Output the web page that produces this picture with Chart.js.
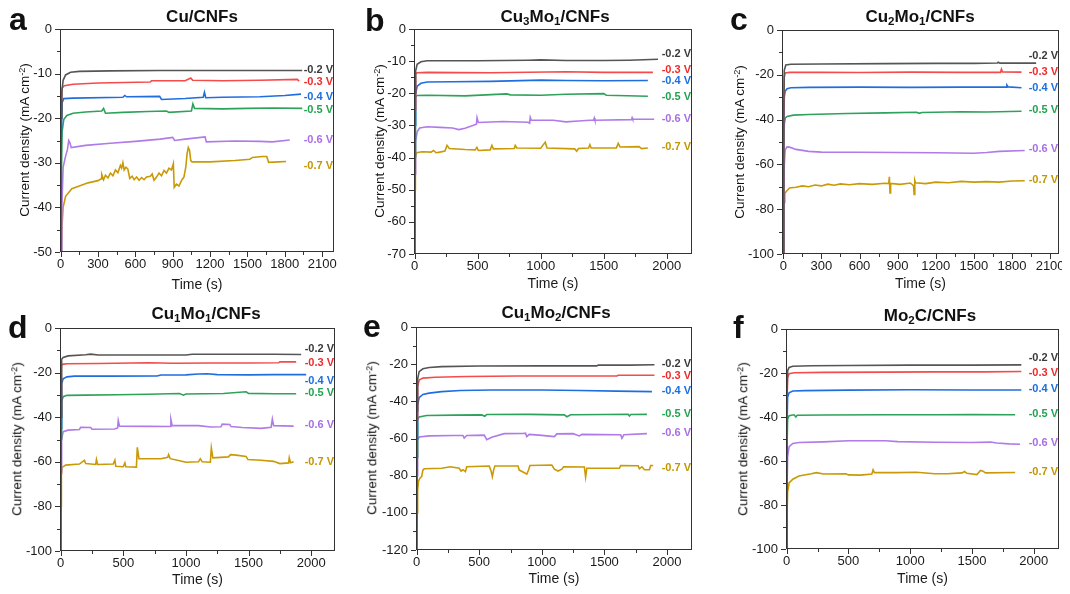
<!DOCTYPE html>
<html>
<head>
<meta charset="utf-8">
<script src="https://cdn.jsdelivr.net/npm/chart.js@4.4.0/dist/chart.umd.min.js"></script>
<style>
  body { margin: 0; background: #fff; }
  #pagina { position: relative; width: 1070px; height: 594px; overflow: hidden; font-family: "Liberation Sans", Arial, sans-serif; color: #111; }
  #pagina canvas { position: absolute; }
  .letra { position: absolute; font-size: 32px; font-weight: bold; line-height: 0; }
  .titulo { position: absolute; font-size: 17px; font-weight: bold; line-height: 0; white-space: nowrap; transform: translateX(-50%); }
  .titulo sub { font-size: 0.68em; vertical-align: -0.3em; line-height: 0; }
  .ytit { position: absolute; font-size: 13.5px; line-height: 1; white-space: nowrap; transform: translate(-50%, -50%) rotate(-90deg); }
  .ytit sup { font-size: 0.68em; vertical-align: 0.45em; line-height: 0; }
</style>
</head>
<body>
<div id="pagina">
  <div class="letra" style="left:9px; top:19px;">a</div>
  <div class="letra" style="left:365px; top:20px;">b</div>
  <div class="letra" style="left:730px; top:19px;">c</div>
  <div class="letra" style="left:8px; top:327px;">d</div>
  <div class="letra" style="left:363px; top:326px;">e</div>
  <div class="letra" style="left:733px; top:327px;">f</div>

  <div class="titulo" style="left:202px; top:17px;">Cu/CNFs</div>
  <div class="titulo" style="left:555px; top:17px;">Cu<sub>3</sub>Mo<sub>1</sub>/CNFs</div>
  <div class="titulo" style="left:920px; top:17px;">Cu<sub>2</sub>Mo<sub>1</sub>/CNFs</div>
  <div class="titulo" style="left:206px; top:314px;">Cu<sub>1</sub>Mo<sub>1</sub>/CNFs</div>
  <div class="titulo" style="left:556px; top:313px;">Cu<sub>1</sub>Mo<sub>2</sub>/CNFs</div>
  <div class="titulo" style="left:930px; top:316px;">Mo<sub>2</sub>C/CNFs</div>

  <div class="ytit" style="left:25px; top:140px;">Current density (mA cm<sup>-2</sup>)</div>
  <div class="ytit" style="left:380px; top:141px;">Current density (mA cm<sup>-2</sup>)</div>
  <div class="ytit" style="left:740px; top:142px;">Current density (mA cm<sup>-2</sup>)</div>
  <div class="ytit" style="left:17px; top:439px;">Current density (mA cm<sup>-2</sup>)</div>
  <div class="ytit" style="left:372px; top:438px;">Current density (mA cm<sup>-2</sup>)</div>
  <div class="ytit" style="left:743px; top:439px;">Current density (mA cm<sup>-2</sup>)</div>
</div>

<script>
const voltajes = ['-0.2 V', '-0.3 V', '-0.4 V', '-0.5 V', '-0.6 V', '-0.7 V'];
const colores_linea = ['#555555', '#f44b4b', '#1f6ee0', '#2ea25a', '#b07be8', '#c99a06'];
const colores_texto = ['#3a3a3a', '#f02a2a', '#1a6fe0', '#21a350', '#a86ee6', '#c39600'];

// [tiempo (s), densidad de corriente (mA cm-2)]
// a) Cu/CNFs
const cu_02 = [[0,-60],[5,-20],[10,-14],[20,-11.5],[40,-10.3],[80,-9.7],[150,-9.5],[400,-9.4],[800,-9.3],[1200,-9.3],[1600,-9.3],[1940,-9.3]];
const cu_03 = [[0,-60],[5,-17],[12,-13.2],[30,-12.7],[100,-12.4],[300,-12.1],[720,-11.9],[730,-11.6],[1000,-11.6],[1045,-11.0],[1060,-11.5],[1300,-11.6],[1600,-11.5],[1900,-11.3],[1915,-11.7]];
const cu_04 = [[0,-60],[5,-25],[12,-16.5],[25,-15.6],[100,-15.5],[500,-15.3],[515,-14.9],[530,-15.2],[795,-15.1],[810,-15.8],[1000,-15.6],[1145,-15.3],[1155,-14.2],[1165,-15.4],[1300,-15.3],[1600,-15.2],[1800,-14.9],[1930,-14.6]];
const cu_05 = [[0,-60],[5,-35],[12,-23],[25,-20.3],[50,-19.4],[100,-18.9],[200,-18.6],[330,-18.4],[345,-17.8],[360,-18.9],[500,-18.7],[700,-18.5],[850,-18.4],[870,-18.7],[1050,-18.4],[1062,-16.8],[1075,-17.8],[1300,-17.9],[1500,-17.8],[1700,-17.7],[1940,-17.8]];
const cu_06 = [[5,-60],[10,-40],[20,-31],[40,-28.5],[55,-27],[65,-25],[75,-25.5],[85,-26.6],[200,-26.1],[400,-25.6],[600,-25.2],[800,-24.7],[900,-24.3],[915,-25.0],[1000,-24.7],[1160,-24.2],[1170,-25.3],[1400,-25.1],[1600,-25.2],[1700,-25.3],[1840,-24.9]];
const cu_07 = [[3,-60],[10,-45],[20,-40],[40,-37.5],[90,-35.8],[150,-35.2],[220,-34.5],[300,-34],[325,-33.6],[330,-32.6],[345,-33.8],[360,-32.8],[380,-33.4],[400,-32.3],[420,-32.9],[440,-31.6],[460,-32.2],[480,-30.6],[490,-31.2],[500,-30.0],[510,-31.6],[525,-31.0],[540,-31.4],[555,-33.5],[575,-33.0],[590,-33.8],[610,-33.2],[630,-33.9],[650,-33.3],[670,-33.8],[690,-33.2],[720,-33.0],[735,-32.5],[750,-33.9],[770,-33.2],[790,-32.3],[810,-32.9],[830,-31.7],[850,-32.3],[870,-31.2],[890,-31.6],[905,-30.2],[912,-35.5],[930,-34.8],[950,-35.2],[970,-34.0],[990,-33.2],[1005,-31],[1015,-28],[1025,-26.6],[1035,-27.2],[1045,-29.5],[1055,-29.8],[1200,-29.8],[1400,-29.5],[1520,-29.2],[1540,-28.8],[1620,-28.6],[1655,-28.6],[1670,-29.9],[1750,-29.8],[1810,-29.7]];

// b) Cu3Mo1/CNFs
const cu3mo1_02 = [[0,-70],[3,-20],[8,-13],[20,-11],[50,-10.2],[100,-9.9],[500,-9.9],[900,-9.7],[1000,-9.6],[1200,-9.8],[1500,-9.8],[1700,-9.7],[1930,-9.4]];
const cu3mo1_03 = [[0,-70],[3,-25],[8,-14],[20,-13.6],[100,-13.5],[600,-13.6],[1200,-13.3],[1500,-13.5],[1890,-13.5]];
const cu3mo1_04 = [[0,-70],[3,-30],[8,-20],[20,-17.8],[50,-16.9],[100,-16.5],[300,-16.4],[600,-16.3],[1000,-15.9],[1200,-16.0],[1500,-16.1],[1850,-16.0]];
const cu3mo1_05 = [[0,-70],[3,-40],[7,-21.5],[15,-20.7],[100,-20.6],[400,-20.8],[730,-20.2],[760,-20.5],[1000,-20.6],[1200,-20.3],[1500,-20.1],[1520,-20.6],[1850,-20.9]];
const cu3mo1_06 = [[0,-70],[3,-45],[8,-35],[20,-32],[40,-30.8],[100,-30.4],[200,-30.6],[300,-30.8],[350,-31.3],[400,-30.9],[450,-30.2],[490,-29.6],[495,-27.6],[505,-29.1],[700,-28.8],[900,-29.0],[912,-29.3],[917,-27.5],[925,-28.4],[1100,-28.4],[1200,-28.9],[1300,-28.6],[1420,-28.3],[1425,-27.7],[1430,-28.4],[1720,-28.2],[1725,-27.6],[1730,-28.1],[1900,-28.1]];
const cu3mo1_07 = [[0,-70],[3,-50],[6,-40],[15,-38.5],[60,-38.2],[130,-38.3],[150,-37.8],[170,-38.5],[200,-38.3],[240,-38.0],[257,-36.2],[275,-37.2],[400,-37.5],[480,-37.6],[494,-36.8],[505,-37.8],[600,-37.6],[613,-36.2],[625,-37.3],[790,-37.2],[798,-36.2],[810,-37.0],[1000,-37.1],[1036,-35.2],[1050,-37.0],[1270,-37.3],[1285,-38.0],[1300,-37.2],[1380,-37.0],[1390,-36.0],[1400,-37.0],[1600,-37.0],[1615,-35.6],[1630,-36.7],[1780,-36.6],[1800,-37.2],[1850,-37.0]];

// c) Cu2Mo1/CNFs
const cu2mo1_02 = [[0,-100],[3,-40],[8,-18],[20,-15.6],[60,-15.3],[300,-15.2],[800,-15.0],[1200,-14.9],[1500,-14.9],[1685,-14.7],[1692,-14.4],[1705,-14.8],[1990,-14.8]];
const cu2mo1_03 = [[0,-100],[3,-40],[8,-21],[15,-19.2],[50,-18.9],[300,-18.9],[600,-19.0],[1000,-18.8],[1400,-18.9],[1710,-18.9],[1717,-17.5],[1725,-18.7],[1875,-18.8]];
const cu2mo1_04 = [[0,-100],[3,-50],[8,-30],[15,-27.3],[30,-26.2],[60,-25.8],[200,-25.6],[600,-25.5],[1000,-25.6],[1400,-25.5],[1755,-25.5],[1760,-24.6],[1770,-25.4],[1875,-25.8]];
const cu2mo1_05 = [[0,-100],[3,-60],[8,-42],[15,-39.4],[30,-38.6],[80,-38.0],[200,-37.7],[500,-37.3],[800,-37.0],[1050,-36.7],[1070,-37.2],[1090,-36.8],[1400,-36.5],[1600,-36.6],[1875,-36.3]];
const cu2mo1_06 = [[0,-100],[4,-75],[8,-60],[15,-53.5],[30,-52.2],[50,-52.3],[100,-53.3],[200,-54.2],[300,-54.5],[600,-54.6],[900,-54.7],[1200,-54.8],[1500,-55.0],[1600,-54.7],[1700,-54.2],[1900,-53.8]];
const cu2mo1_07 = [[0,-100],[3,-85],[6,-77],[12,-73],[25,-72],[50,-70.5],[100,-70.2],[150,-69.6],[200,-70.0],[250,-69.2],[300,-69.6],[350,-68.8],[400,-69.3],[450,-68.7],[520,-69.1],[600,-68.6],[700,-68.9],[800,-68.4],[830,-68.6],[835,-65.5],[840,-72.8],[845,-68.5],[920,-68.9],[1000,-68.3],[1025,-69.5],[1030,-73.4],[1035,-67.2],[1040,-68.2],[1120,-68.6],[1200,-67.9],[1300,-68.2],[1400,-67.6],[1500,-67.9],[1600,-67.7],[1700,-67.9],[1800,-67.4],[1900,-67.3]];

// d) Cu1Mo1/CNFs
const cu1mo1_02 = [[0,-100],[3,-40],[8,-14],[20,-13.2],[60,-12.5],[200,-12.0],[240,-11.7],[300,-12.1],[700,-12.1],[1000,-12.1],[1050,-11.8],[1400,-11.8],[1700,-11.8],[1920,-11.9]];
const cu1mo1_03 = [[0,-100],[3,-40],[6,-17],[15,-16.3],[50,-16.0],[300,-15.9],[700,-15.6],[900,-15.8],[1200,-15.7],[1500,-15.7],[1740,-15.6],[1750,-15.2],[1880,-15.2]];
const cu1mo1_04 = [[0,-100],[3,-45],[8,-25],[20,-22.8],[50,-21.9],[110,-21.6],[400,-21.6],[770,-21.5],[800,-21.1],[1000,-21.0],[1100,-20.6],[1170,-20.5],[1250,-20.9],[1500,-21.0],[1700,-20.9],[1960,-20.9]];
const cu1mo1_05 = [[0,-100],[3,-50],[8,-33],[20,-30.8],[50,-30.2],[200,-30.1],[450,-29.9],[700,-29.7],[950,-29.4],[980,-30.1],[1000,-29.6],[1300,-29.4],[1480,-28.6],[1500,-29.3],[1700,-29.5],[1880,-29.5]];
const cu1mo1_06 = [[0,-100],[3,-65],[8,-50],[20,-46.5],[60,-45.8],[150,-45.5],[160,-44.5],[240,-44.6],[250,-45.4],[430,-45.3],[455,-44.8],[460,-41.5],[470,-44.0],[700,-44.1],[875,-44.2],[880,-41.0],[890,-43.7],[1100,-43.8],[1200,-44.4],[1280,-44.3],[1290,-43.1],[1350,-43.3],[1360,-44.2],[1450,-44.6],[1600,-45.0],[1680,-44.5],[1690,-40.8],[1700,-43.8],[1860,-44.0]];
const cu1mo1_07 = [[0,-100],[3,-80],[6,-66],[12,-62.5],[40,-61.5],[150,-61.0],[190,-59.3],[200,-60.8],[280,-61.2],[286,-59.0],[295,-61.2],[420,-61.0],[433,-59.3],[440,-62.0],[500,-62.2],[513,-60.5],[520,-62.2],[605,-62.4],[612,-53.5],[625,-58.6],[800,-58.6],[855,-58.0],[862,-56.8],[875,-58.6],[950,-59.5],[1000,-60.2],[1100,-60.0],[1115,-58.6],[1130,-60.0],[1195,-60.2],[1203,-53.8],[1215,-58.2],[1340,-57.8],[1356,-56.8],[1400,-57.0],[1480,-57.6],[1495,-59.0],[1600,-59.3],[1700,-59.8],[1750,-60.8],[1820,-60.5],[1825,-58.2],[1835,-60.4],[1860,-60.0]];

// e) Cu1Mo2/CNFs
const cu1mo2_02 = [[0,-120],[3,-45],[8,-28],[20,-24],[50,-22.5],[100,-21.8],[200,-21.3],[500,-21.0],[1000,-20.9],[1440,-20.9],[1450,-20.5],[1700,-20.5],[1900,-20.3]];
const cu1mo2_03 = [[0,-120],[3,-50],[8,-32],[20,-28.5],[50,-27.5],[150,-27.0],[400,-26.6],[800,-26.4],[1200,-26.4],[1600,-26.4],[1610,-26.0],[1900,-26.0]];
const cu1mo2_04 = [[0,-120],[3,-60],[8,-42],[20,-38],[50,-36.3],[100,-35.6],[200,-34.8],[350,-34.2],[600,-33.9],[1000,-33.9],[1300,-34.2],[1600,-34.5],[1880,-34.8]];
const cu1mo2_05 = [[0,-120],[3,-70],[8,-50],[20,-48.4],[80,-47.6],[300,-47.4],[520,-47.3],[545,-48.0],[560,-47.1],[900,-47.0],[1180,-47.3],[1200,-48.3],[1230,-47.2],[1500,-47.1],[1690,-47.0],[1700,-47.9],[1710,-47.1],[1840,-47.0]];
const cu1mo2_06 = [[0,-120],[3,-80],[8,-61],[20,-59.2],[100,-58.6],[300,-58.4],[370,-58.4],[380,-59.8],[400,-58.4],[540,-58.2],[560,-60.6],[600,-59.3],[700,-57.4],[850,-57.3],[870,-57.1],[880,-59.0],[900,-57.8],[1000,-58.3],[1100,-59.0],[1120,-57.5],[1250,-57.4],[1300,-58.6],[1320,-57.8],[1630,-58.0],[1640,-59.9],[1655,-58.0],[1840,-57.4]];
const cu1mo2_07 = [[0,-120],[3,-100],[8,-88],[15,-83],[25,-81.5],[40,-80.5],[50,-77],[60,-76.3],[200,-76.0],[270,-75.2],[340,-76.0],[355,-77.5],[370,-76.8],[390,-77.8],[400,-75.2],[580,-74.8],[595,-77.5],[605,-80.5],[615,-77.0],[625,-74.8],[810,-74.8],[820,-77.0],[850,-78.0],[880,-79.2],[895,-76.8],[905,-74.5],[1080,-74.3],[1100,-76.5],[1130,-77.5],[1160,-76.5],[1175,-75.2],[1340,-75.3],[1350,-80.8],[1360,-76.0],[1620,-76.0],[1630,-74.6],[1770,-74.7],[1780,-76.3],[1800,-75.2],[1820,-76.8],[1860,-76.8],[1870,-74.5],[1890,-74.5]];

// f) Mo2C/CNFs
const mo2c_02 = [[0,-100],[3,-30],[8,-19],[20,-17.5],[50,-16.9],[200,-16.7],[500,-16.6],[1000,-16.4],[1500,-16.4],[1900,-16.3]];
const mo2c_03 = [[0,-100],[3,-35],[8,-22],[20,-20.3],[60,-19.9],[300,-19.7],[800,-19.6],[1200,-19.5],[1600,-19.5],[1900,-19.3]];
const mo2c_04 = [[0,-100],[3,-45],[8,-31],[20,-29],[50,-28.2],[150,-28.0],[500,-27.8],[1000,-27.6],[1500,-27.7],[1900,-27.7]];
const mo2c_05 = [[0,-100],[3,-55],[8,-41],[20,-39.4],[60,-39.0],[75,-40.0],[85,-39.2],[300,-39.1],[800,-39.0],[1200,-39.0],[1500,-38.9],[1850,-39.0]];
const mo2c_06 = [[0,-100],[3,-75],[8,-58],[20,-53.5],[50,-52.0],[100,-51.6],[300,-51.3],[500,-50.8],[800,-50.8],[900,-51.2],[1200,-51.5],[1500,-51.6],[1650,-51.4],[1700,-51.8],[1800,-52.2],[1890,-52.4]];
const mo2c_07 = [[0,-100],[3,-85],[8,-74],[20,-70],[50,-68.3],[100,-66.8],[200,-65.8],[240,-65.3],[300,-65.9],[480,-65.8],[500,-66.3],[600,-66.4],[690,-65.9],[700,-64.0],[710,-65.3],[900,-65.3],[1050,-65.1],[1200,-65.8],[1300,-65.8],[1420,-65.4],[1440,-64.8],[1460,-65.6],[1540,-66.2],[1570,-64.3],[1590,-64.6],[1610,-65.4],[1850,-65.2]];

// caja = area del grafico en la pagina [izq, arriba, der, abajo]
// x / y = [min, max, paso menor, paso mayor]
const paneles = [
  { series: [cu_02, cu_03, cu_04, cu_05, cu_06, cu_07], caja: [59.5, 29, 334, 251.5], x: [-5, 2195, 150, 300], y: [-50, 0, 5, 10],
    etiquetas_y: [-9.2, -11.9, -15.2, -18.2, -24.8, -30.6], tit_x: 34, der: 14 },
  { series: [cu3mo1_02, cu3mo1_03, cu3mo1_04, cu3mo1_05, cu3mo1_06, cu3mo1_07], caja: [413.7, 29, 692, 254], x: [-5, 2200, 250, 500], y: [-70, 0, 5, 10],
    etiquetas_y: [-7.9, -12.8, -16.2, -21.1, -28.0, -36.6], tit_x: 31, der: 14 },
  { series: [cu2mo1_02, cu2mo1_03, cu2mo1_04, cu2mo1_05, cu2mo1_06, cu2mo1_07], caja: [782, 29.7, 1059, 254], x: [-10, 2170, 150, 300], y: [-100, 0, 10, 20],
    etiquetas_y: [-11.7, -18.7, -25.7, -35.8, -53.2, -67.0], tit_x: 31, der: 3 },
  { series: [cu1mo1_02, cu1mo1_03, cu1mo1_04, cu1mo1_05, cu1mo1_06, cu1mo1_07], caja: [60.3, 328, 335, 550.7], x: [-5, 2190, 250, 500], y: [-100, 0, 10, 20],
    etiquetas_y: [-9.6, -15.6, -23.8, -29.3, -43.6, -60.0], tit_x: 30, der: 14 },
  { series: [cu1mo2_02, cu1mo2_03, cu1mo2_04, cu1mo2_05, cu1mo2_06, cu1mo2_07], caja: [415.7, 327, 692.3, 550], x: [-5, 2200, 250, 500], y: [-120, 0, 10, 20],
    etiquetas_y: [-20.1, -26.4, -34.4, -46.8, -57.2, -76.0], tit_x: 30, der: 14 },
  { series: [mo2c_02, mo2c_03, mo2c_04, mo2c_05, mo2c_06, mo2c_07], caja: [785.7, 329.3, 1059, 549], x: [-5, 2205, 250, 500], y: [-100, 0, 10, 20],
    etiquetas_y: [-13.2, -20.0, -27.3, -38.6, -51.6, -64.8], tit_x: 31, der: 14 }
];

const fuente = '"Liberation Sans", Arial, sans-serif';
Chart.defaults.font.family = fuente;
Chart.defaults.color = '#1a1a1a';

const ancho_y = 45;   // ancho del eje y
const margen_sup = 14;

// marcas cada "paso" dentro de [min, max]
function marcas(rango) {
  const [min, max, paso] = rango;
  const lista = [];
  for (let v = Math.ceil(min / paso) * paso; v <= max; v += paso) lista.push({ value: v });
  return lista;
}

// marco, marcas de los ejes y etiquetas de voltaje
function plugin_panel(panel) {
  return {
    id: 'panel_extra',
    afterDatasetsDraw(chart) {
      const ctx = chart.ctx;
      const area = chart.chartArea;
      const xs = chart.scales.x;
      const ys = chart.scales.y;
      ctx.save();
      ctx.strokeStyle = '#333';
      ctx.lineWidth = 1;
      ctx.strokeRect(Math.round(area.left) + 0.5, Math.round(area.top) + 0.5,
        Math.round(area.right - area.left) - 1, Math.round(area.bottom - area.top) - 1);

      ctx.beginPath();
      xs.ticks.forEach(t => {
        const px = Math.round(xs.getPixelForValue(t.value)) + 0.5;
        const largo = (t.value % panel.x[3] === 0) ? 5 : 3;
        ctx.moveTo(px, area.bottom);
        ctx.lineTo(px, area.bottom + largo);
      });
      ys.ticks.forEach(t => {
        const py = Math.round(ys.getPixelForValue(t.value)) + 0.5;
        const largo = (t.value % panel.y[3] === 0) ? 5 : 3;
        ctx.moveTo(area.left, py);
        ctx.lineTo(area.left - largo, py);
      });
      ctx.stroke();

      ctx.font = 'bold 11px ' + fuente;
      ctx.textAlign = 'right';
      ctx.textBaseline = 'middle';
      voltajes.forEach((v, i) => {
        ctx.fillStyle = colores_texto[i];
        ctx.fillText(v, area.right - 1, ys.getPixelForValue(panel.etiquetas_y[i]));
      });
      ctx.restore();
    }
  };
}

function crearPanel(panel) {
  const [izq, arriba, der, abajo] = panel.caja;
  const alto_x = panel.tit_x + 12.4;
  const canvas = document.createElement('canvas');
  const left = Math.round(izq - ancho_y);
  const top = Math.round(arriba - margen_sup);
  canvas.width = Math.round(der + panel.der) - left;
  canvas.height = Math.round(abajo + alto_x) - top;
  canvas.style.left = left + 'px';
  canvas.style.top = top + 'px';
  const pagina = document.getElementById('pagina');
  pagina.insertBefore(canvas, pagina.firstChild);

  const ajuste_x = Math.round(abajo + alto_x) - Math.round(abajo);
  const ajuste_y = Math.round(izq) - left;

  new Chart(canvas.getContext('2d'), {
    type: 'line',
    data: {
      datasets: panel.series.map((s, i) => ({
        label: voltajes[i],
        data: s.map(p => ({ x: p[0], y: p[1] })),
        borderColor: colores_linea[i],
        borderWidth: 1.6,
        pointRadius: 0,
        tension: 0,
        fill: false
      }))
    },
    options: {
      responsive: false,
      animation: false,
      events: [],
      layout: { padding: { left: 0, top: Math.round(arriba) - top, right: canvas.width - (Math.round(der) - left), bottom: 0 } },
      plugins: { legend: { display: false }, tooltip: { enabled: false } },
      scales: {
        x: {
          type: 'linear',
          min: panel.x[0], max: panel.x[1],
          grid: { display: false, drawTicks: false },
          border: { display: false },
          ticks: {
            autoSkip: false, maxRotation: 0, minRotation: 0,
            padding: 5, font: { size: 13 }, color: '#1a1a1a',
            callback: v => (v % panel.x[3] === 0 ? String(v) : '')
          },
          afterBuildTicks: s => { s.ticks = marcas(panel.x); },
          title: { display: true, text: 'Time (s)', font: { size: 14 }, color: '#1a1a1a', padding: { top: 0, bottom: 4 } },
          afterFit: s => { s.height = ajuste_x; s.paddingLeft = 0; s.paddingRight = 0; }
        },
        y: {
          min: panel.y[0], max: panel.y[1],
          grid: { display: false, drawTicks: false },
          border: { display: false },
          ticks: {
            autoSkip: false,
            padding: 8, font: { size: 13 }, color: '#1a1a1a',
            callback: v => (v % panel.y[3] === 0 ? String(v) : '')
          },
          afterBuildTicks: s => { s.ticks = marcas(panel.y); },
          afterFit: s => { s.width = ajuste_y; s.paddingTop = 0; s.paddingBottom = 0; }
        }
      }
    },
    plugins: [plugin_panel(panel)]
  });
}

paneles.forEach(crearPanel);
</script>
</body>
</html>
